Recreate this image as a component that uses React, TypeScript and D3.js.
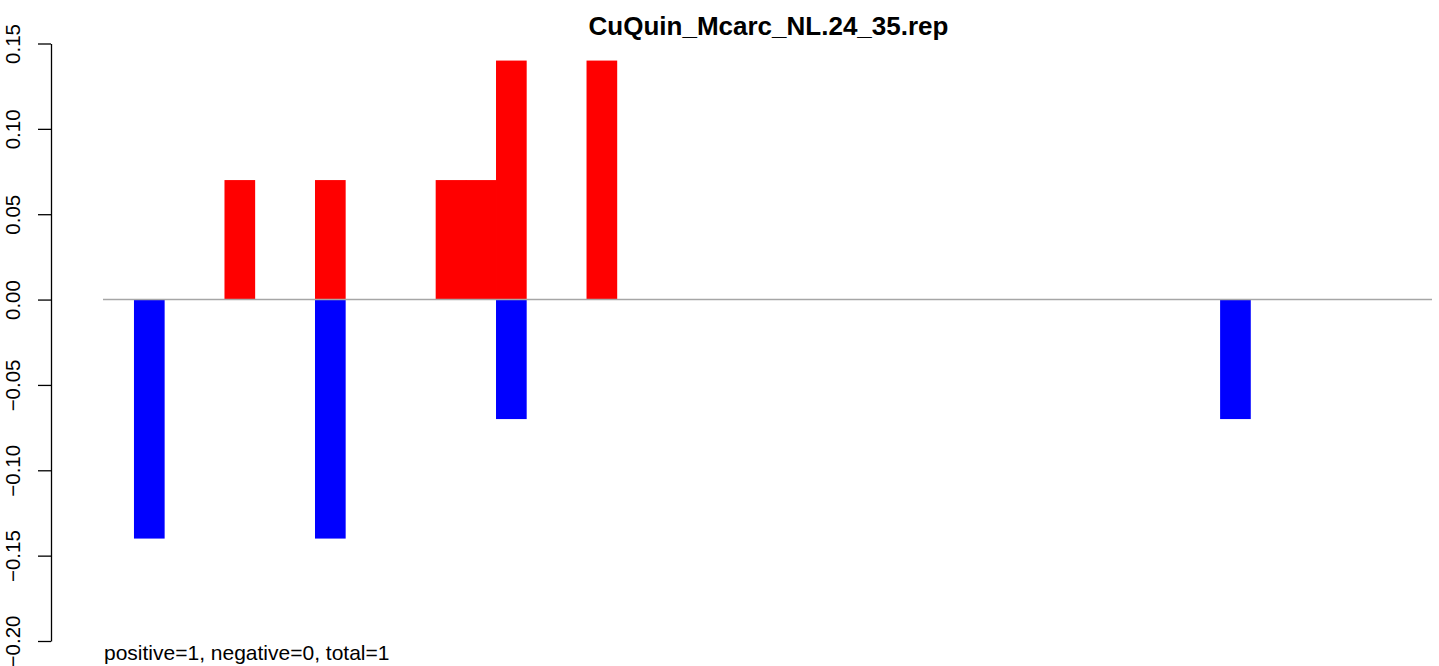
import React, { useEffect, useRef } from 'react';
import * as d3 from 'd3';

const width = 1439;
const height = 666;

const title = 'CuQuin_Mcarc_NL.24_35.rep';
const footer = 'positive=1, negative=0, total=1';
const slotCount = 44;

const posSlots = [4, 7, 11, 12, 13, 16];
const posValues = [0.07, 0.07, 0.07, 0.07, 0.14, 0.14];
const negSlots = [1, 7, 13, 37];
const negValues = [-0.14, -0.14, -0.07, -0.07];
const yTicks = [-0.2, -0.15, -0.1, -0.05, 0, 0.05, 0.1, 0.15];

const font = 'Liberation Sans, Arial, sans-serif';

const App: React.FC = () => {
  const ref = useRef<SVGSVGElement>(null);

  useEffect(() => {
    if (!ref.current) return;
    const svg = d3.select(ref.current);
    svg.selectAll('*').remove();

    const x = d3
      .scaleBand<number>()
      .domain(d3.range(slotCount))
      .range([103.8, 1431.3])
      .padding(0);
    const y = d3.scaleLinear().domain([-0.2, 0.15]).range([641, 43.5]);

    // bars
    svg
      .append('g')
      .selectAll('rect')
      .data(posSlots.map((s, i) => ({ s, v: posValues[i] })))
      .enter()
      .append('rect')
      .attr('x', d => x(d.s)!)
      .attr('width', x.bandwidth() + 0.5)
      .attr('y', d => y(d.v))
      .attr('height', d => y(0) - y(d.v))
      .attr('fill', '#ff0000');

    svg
      .append('g')
      .selectAll('rect')
      .data(negSlots.map((s, i) => ({ s, v: negValues[i] })))
      .enter()
      .append('rect')
      .attr('x', d => x(d.s)!)
      .attr('width', x.bandwidth() + 0.5)
      .attr('y', y(0))
      .attr('height', d => y(d.v) - y(0))
      .attr('fill', '#0000ff');

    // zero line
    svg
      .append('line')
      .attr('x1', 103)
      .attr('x2', 1432)
      .attr('y1', y(0))
      .attr('y2', y(0))
      .attr('stroke', '#a6a6a6')
      .attr('stroke-width', 1.5);

    // y axis
    const axis = svg
      .append('g')
      .attr('transform', 'translate(51,0)')
      .call(
        d3
          .axisLeft(y)
          .tickValues(yTicks)
          .tickSize(13)
          .tickSizeOuter(0)
          .tickFormat(d3.format('.2f'))
      );
    axis.select('.domain').attr('stroke', '#000').attr('stroke-width', 1.3);
    axis.selectAll('.tick line').attr('stroke', '#000').attr('stroke-width', 1.3);
    axis
      .selectAll<SVGTextElement, number>('.tick text')
      .attr('x', 0)
      .attr('dy', 0)
      .attr('text-anchor', 'middle')
      .attr('transform', 'translate(-31,0) rotate(-90)')
      .attr('font-family', font)
      .attr('font-size', 20.5)
      .attr('fill', '#000');

    svg
      .append('text')
      .attr('x', 768.5)
      .attr('y', 35)
      .attr('text-anchor', 'middle')
      .attr('font-family', font)
      .attr('font-weight', 'bold')
      .attr('font-size', 26)
      .text(title);

    svg
      .append('text')
      .attr('x', 104)
      .attr('y', 660)
      .attr('font-family', font)
      .attr('font-size', 21)
      .text(footer);
  }, []);

  return (
    <svg
      ref={ref}
      width={width}
      height={height}
      style={{ position: 'absolute', top: 0, left: 0, background: '#fff' }}
    />
  );
};

export default App;
